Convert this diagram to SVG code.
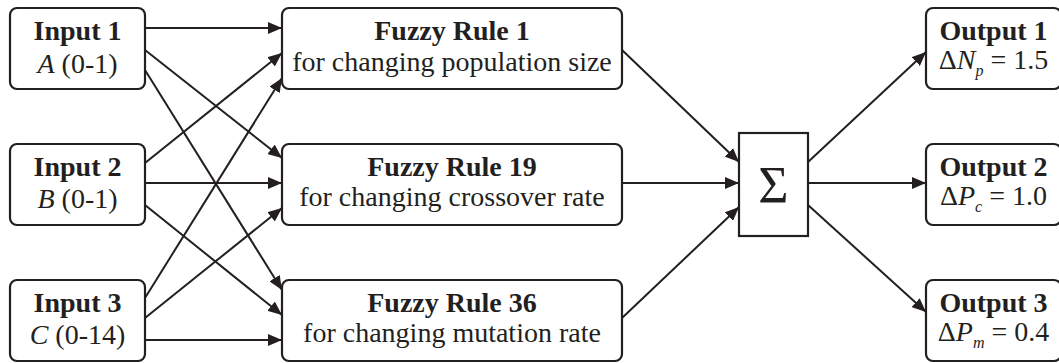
<svg xmlns="http://www.w3.org/2000/svg" width="1059" height="363" viewBox="0 0 1059 363">
<defs>
<marker id="ah" markerUnits="userSpaceOnUse" markerWidth="15" markerHeight="12" refX="14" refY="6" orient="auto">
<path d="M0,0 L14,6 L0,12 z" fill="#231f20"/>
</marker>
<style>
.box{fill:#fff;stroke:#231f20;stroke-width:2.2}
.t{font-family:"Liberation Serif","Times New Roman",serif;font-size:28px;fill:#231f20;text-anchor:middle}
.b{font-weight:bold}
.i{font-style:italic}
.sub{font-size:16px;font-style:italic}
.c line{stroke:#231f20;stroke-width:2;marker-end:url(#ah)}
</style>
</defs>
<rect width="1059" height="363" fill="#fff"/>
<g class="c" id="connectors">
<line x1="145" y1="28" x2="282" y2="28"/>
<line x1="145" y1="50" x2="282" y2="158"/>
<line x1="145" y1="70" x2="282" y2="290"/>
<line x1="145" y1="163" x2="282" y2="53"/>
<line x1="145" y1="183" x2="282" y2="183"/>
<line x1="145" y1="205" x2="282" y2="315"/>
<line x1="145" y1="298" x2="282" y2="78"/>
<line x1="145" y1="318" x2="282" y2="208"/>
<line x1="145" y1="340" x2="282" y2="340"/>
<line x1="622" y1="50" x2="739" y2="162"/>
<line x1="622" y1="183" x2="739" y2="183"/>
<line x1="622" y1="318" x2="739" y2="207"/>
<line x1="808" y1="162" x2="926" y2="52"/>
<line x1="808" y1="183" x2="926" y2="183"/>
<line x1="808" y1="205" x2="926" y2="312"/>
</g>
<g id="input1"><rect class="box" x="10" y="8" width="135" height="81" rx="7"/>
<text class="t b" x="77.5" y="40">Input 1</text>
<text class="t" x="77.5" y="73"><tspan class="i">A</tspan> (0-1)</text></g>
<g id="input2"><rect class="box" x="10" y="144" width="135" height="81" rx="7"/>
<text class="t b" x="77.5" y="176">Input 2</text>
<text class="t" x="77.5" y="208"><tspan class="i">B</tspan> (0-1)</text></g>
<g id="input3"><rect class="box" x="10" y="280" width="135" height="81" rx="7"/>
<text class="t b" x="77.5" y="312">Input 3</text>
<text class="t" x="77.5" y="344"><tspan class="i">C</tspan> (0-14)</text></g>
<g id="rule1"><rect class="box" x="282" y="8" width="340" height="81" rx="7"/>
<text class="t b" x="452" y="40">Fuzzy Rule 1</text>
<text class="t" x="452" y="71">for changing population size</text></g>
<g id="rule19"><rect class="box" x="282" y="144" width="340" height="81" rx="7"/>
<text class="t b" x="452" y="176">Fuzzy Rule 19</text>
<text class="t" x="452" y="206">for changing crossover rate</text></g>
<g id="rule36"><rect class="box" x="282" y="280" width="340" height="81" rx="7"/>
<text class="t b" x="452" y="312">Fuzzy Rule 36</text>
<text class="t" x="452" y="342">for changing mutation rate</text></g>
<g id="sum"><rect class="box" x="739" y="133" width="69" height="103"/>
<text class="t" x="773.5" y="203" style="font-size:52px">Σ</text></g>
<g id="output1"><rect class="box" x="926" y="8" width="135" height="81" rx="7"/>
<text class="t b" x="993.5" y="40">Output 1</text>
<text class="t" x="993.5" y="69">Δ<tspan class="i">N</tspan><tspan class="sub" dy="7">p</tspan><tspan dy="-7"> = 1.5</tspan></text></g>
<g id="output2"><rect class="box" x="926" y="144" width="135" height="81" rx="7"/>
<text class="t b" x="993.5" y="176">Output 2</text>
<text class="t" x="993.5" y="205">Δ<tspan class="i">P</tspan><tspan class="sub" dy="7">c</tspan><tspan dy="-7"> = 1.0</tspan></text></g>
<g id="output3"><rect class="box" x="926" y="280" width="135" height="81" rx="7"/>
<text class="t b" x="993.5" y="312">Output 3</text>
<text class="t" x="993.5" y="341">Δ<tspan class="i">P</tspan><tspan class="sub" dy="7">m</tspan><tspan dy="-7"> = 0.4</tspan></text></g>
</svg>
